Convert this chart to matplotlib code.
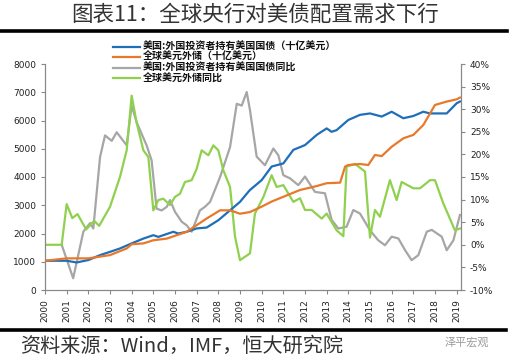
import matplotlib
matplotlib.use("Agg")
import matplotlib.pyplot as plt
from matplotlib.lines import Line2D
from matplotlib.ticker import FuncFormatter

plt.rcParams['font.family'] = ['Noto Sans CJK SC', 'DejaVu Sans']

# ---- data (year, value) ----
holdings_x = [2000.0, 2001.0, 2001.46, 2002.0, 2002.54, 2003.0, 2003.46, 2004.0, 2004.54, 2005.0,
              2005.23, 2005.92, 2006.15, 2006.54, 2007.0, 2007.46, 2008.0, 2008.54, 2009.0, 2009.38,
              2009.46, 2010.0, 2010.46, 2011.0, 2011.46, 2012.0, 2012.54, 2013.0, 2013.23, 2013.46,
              2014.0, 2014.54, 2015.0, 2015.54, 2016.0, 2016.54, 2017.0, 2017.46, 2017.77, 2018.54,
              2019.0, 2019.15]
holdings = [1035, 1035, 975, 1060, 1235, 1350, 1470, 1650, 1820, 1940,
            1880, 2060, 2000, 2060, 2180, 2210, 2470, 2820, 3120, 3470,
            3540, 3890, 4370, 4480, 4960, 5130, 5490, 5720, 5600, 5660,
            6020, 6200, 6250, 6140, 6310, 6080, 6160, 6310, 6250, 6250,
            6610, 6670]

reserves_x = [2000.0, 2001.0, 2002.0, 2003.0, 2003.77, 2004.0, 2004.54, 2005.0, 2005.62, 2006.54,
              2007.46, 2008.08, 2008.54, 2009.0, 2009.46, 2010.0, 2010.46, 2011.0, 2011.77, 2012.54,
              2013.0, 2013.62, 2013.85, 2014.0, 2014.54, 2014.92, 2015.23, 2015.54, 2016.0, 2016.54,
              2017.0, 2017.46, 2018.0, 2018.54, 2019.0, 2019.15]
reserves = [1035, 1120, 1120, 1235, 1470, 1620, 1650, 1760, 1820, 2060,
            2530, 2820, 2820, 2700, 2760, 2950, 3130, 3300, 3540, 3680,
            3780, 3800, 4370, 4425, 4460, 4425, 4780, 4740, 5070, 5370,
            5490, 5840, 6550, 6670, 6750, 6810]

holdings_yoy_x = [2000.77, 2001.3, 2001.77, 2002.08, 2002.23, 2002.54, 2002.77, 2003.08, 2003.31, 2003.77,
                  2004.0, 2004.23, 2004.69, 2004.92, 2005.15, 2005.38, 2005.62, 2005.77, 2006.0, 2006.31,
                  2006.54, 2006.77, 2007.15, 2007.38, 2007.62, 2008.08, 2008.54, 2008.85, 2009.08, 2009.31,
                  2009.46, 2009.77, 2010.15, 2010.54, 2010.77, 2011.0, 2011.31, 2011.69, 2012.0, 2012.46,
                  2012.92, 2013.23, 2013.54, 2013.92, 2014.23, 2014.54, 2015.0, 2015.38, 2015.69, 2016.0,
                  2016.31, 2016.62, 2016.92, 2017.23, 2017.62, 2017.85, 2018.31, 2018.54, 2018.85, 2019.15]
holdings_yoy = [0.0, -7.4, 2.9, 4.8, 3.6, 19.4, 24.2, 23.0, 24.9, 22.0,
                30.8, 27.1, 22.0, 18.7, 8.0, 7.6, 8.4, 9.9, 7.3, 5.1,
                4.3, 2.9, 7.6, 8.4, 9.5, 15.0, 21.6, 31.2, 30.8, 33.8,
                29.8, 19.5, 17.6, 21.3, 19.8, 15.4, 14.7, 13.2, 15.1, 11.7,
                11.4, 5.5, 3.6, 4.0, 7.7, 6.9, 3.2, 1.0, -0.1, 1.8,
                1.4, -1.2, -3.4, -2.3, 2.9, 3.3, 1.8, -1.2, 1.0, 6.6]

reserves_yoy_x = [2000.0, 2000.77, 2001.0, 2001.26, 2001.5, 2001.9, 2002.27, 2002.5, 2003.0, 2003.46,
                  2003.77, 2004.0, 2004.23, 2004.54, 2004.77, 2005.0, 2005.23, 2005.46, 2005.77, 2006.0,
                  2006.23, 2006.46, 2006.77, 2007.0, 2007.23, 2007.54, 2007.77, 2008.0, 2008.23, 2008.54,
                  2008.77, 2009.0, 2009.46, 2009.69, 2010.08, 2010.46, 2010.69, 2011.0, 2011.46, 2011.77,
                  2012.0, 2012.31, 2012.77, 2013.0, 2013.46, 2013.77, 2013.92, 2014.31, 2014.77, 2015.0,
                  2015.23, 2015.46, 2015.92, 2016.23, 2016.46, 2017.0, 2017.31, 2017.77, 2018.0, 2018.38,
                  2018.92, 2019.15]
reserves_yoy = [0.0, 0.0, 9.0, 5.9, 6.8, 3.4, 5.3, 4.2, 8.4, 15.0,
                20.9, 33.0, 27.0, 20.9, 19.4, 7.6, 9.9, 10.2, 8.8, 10.6,
                11.3, 13.9, 14.3, 16.8, 20.9, 19.8, 22.0, 20.9, 16.5, 12.8,
                1.8, -3.4, -1.9, 6.9, 10.6, 15.4, 12.8, 13.2, 9.5, 10.3,
                7.7, 7.7, 5.8, 6.9, 3.2, 1.9, 17.3, 17.9, 16.2, 1.6,
                7.7, 6.2, 14.3, 9.9, 13.9, 12.5, 12.5, 14.3, 14.3, 9.2,
                3.2, 3.6]

years = list(range(2000, 2020))
labels = ['美国:外国投资者持有美国国债（十亿美元）', '全球美元外储（十亿美元）',
          '美国:外国投资者持有美国国债同比', '全球美元外储同比']
colors = ['#1F6FB8', '#E8792B', '#A6A6A6', '#8FD14F']

W, H = 509, 364
fig = plt.figure(figsize=(W / 100, H / 100), dpi=100)
ax = fig.add_axes([45 / W, 1 - 290 / H, 416 / W, 226 / H])
ax2 = ax.twinx()

ax.plot(holdings_x, holdings, color=colors[0], lw=1.6, zorder=3)
ax.plot(reserves_x, reserves, color=colors[1], lw=1.6, zorder=3)
ax2.plot(holdings_yoy_x, holdings_yoy, color=colors[2], lw=1.6)
ax2.plot(reserves_yoy_x, reserves_yoy, color=colors[3], lw=1.6)
ax.set_zorder(ax2.get_zorder() + 1)
ax.patch.set_visible(False)

ax.set_xlim(2000, 2019.2)
ax.set_ylim(0, 8000)
ax2.set_ylim(-10, 40)
ax.set_xticks(years)
ax.set_xticklabels([str(y) for y in years], rotation=90, fontsize=6.5, family='DejaVu Sans')
ax.set_yticks(range(0, 8001, 1000))
ax.tick_params(axis='y', labelsize=6.5, length=3, colors='#888888', labelcolor='#222222')
ax.tick_params(axis='x', length=3, colors='#888888', labelcolor='#222222')
ax2.set_yticks(range(-10, 41, 5))
ax2.yaxis.set_major_formatter(FuncFormatter(lambda v, p: f'{v:.0f}%'))
ax2.tick_params(axis='y', labelsize=6.5, length=3, colors='#888888', labelcolor='#222222')
for a in (ax, ax2):
    a.spines['top'].set_visible(False)
    for s in ('left', 'right', 'bottom'):
        a.spines[s].set_color('#888888')
for lab in ax.get_yticklabels() + ax2.get_yticklabels():
    lab.set_family('DejaVu Sans')

# legend drawn in figure pixels
for i, (lab, c) in enumerate(zip(labels, colors)):
    yy = 1 - (46.5 + 10.6 * i) / H
    fig.add_artist(Line2D([113 / W, 140 / W], [yy, yy], color=c, lw=1.6))
    fig.text(143 / W, yy, lab, fontsize=7.2, fontweight='bold', va='center', ha='left', color='#111111')

# title and frame lines
fig.text(255 / W, 1 - 15 / H, '图表11：全球央行对美债配置需求下行', fontsize=15.5,
         fontweight='light', ha='center', va='center', color='#333333')
fig.add_artist(Line2D([0, 507 / W], [1 - 31 / H] * 2, color='black', lw=2.6))
fig.add_artist(Line2D([0, 506 / W], [1 - 330 / H] * 2, color='black', lw=2.6))
fig.text(20 / W, 1 - 346 / H, '资料来源：Wind，IMF，恒大研究院', fontsize=14.5,
         style='italic', ha='left', va='center', color='#333333')
fig.text(445 / W, 1 - 342 / H, '泽平宏观', fontsize=8, ha='left', va='center', color='#999999')

fig.savefig('out.png', dpi=100)
